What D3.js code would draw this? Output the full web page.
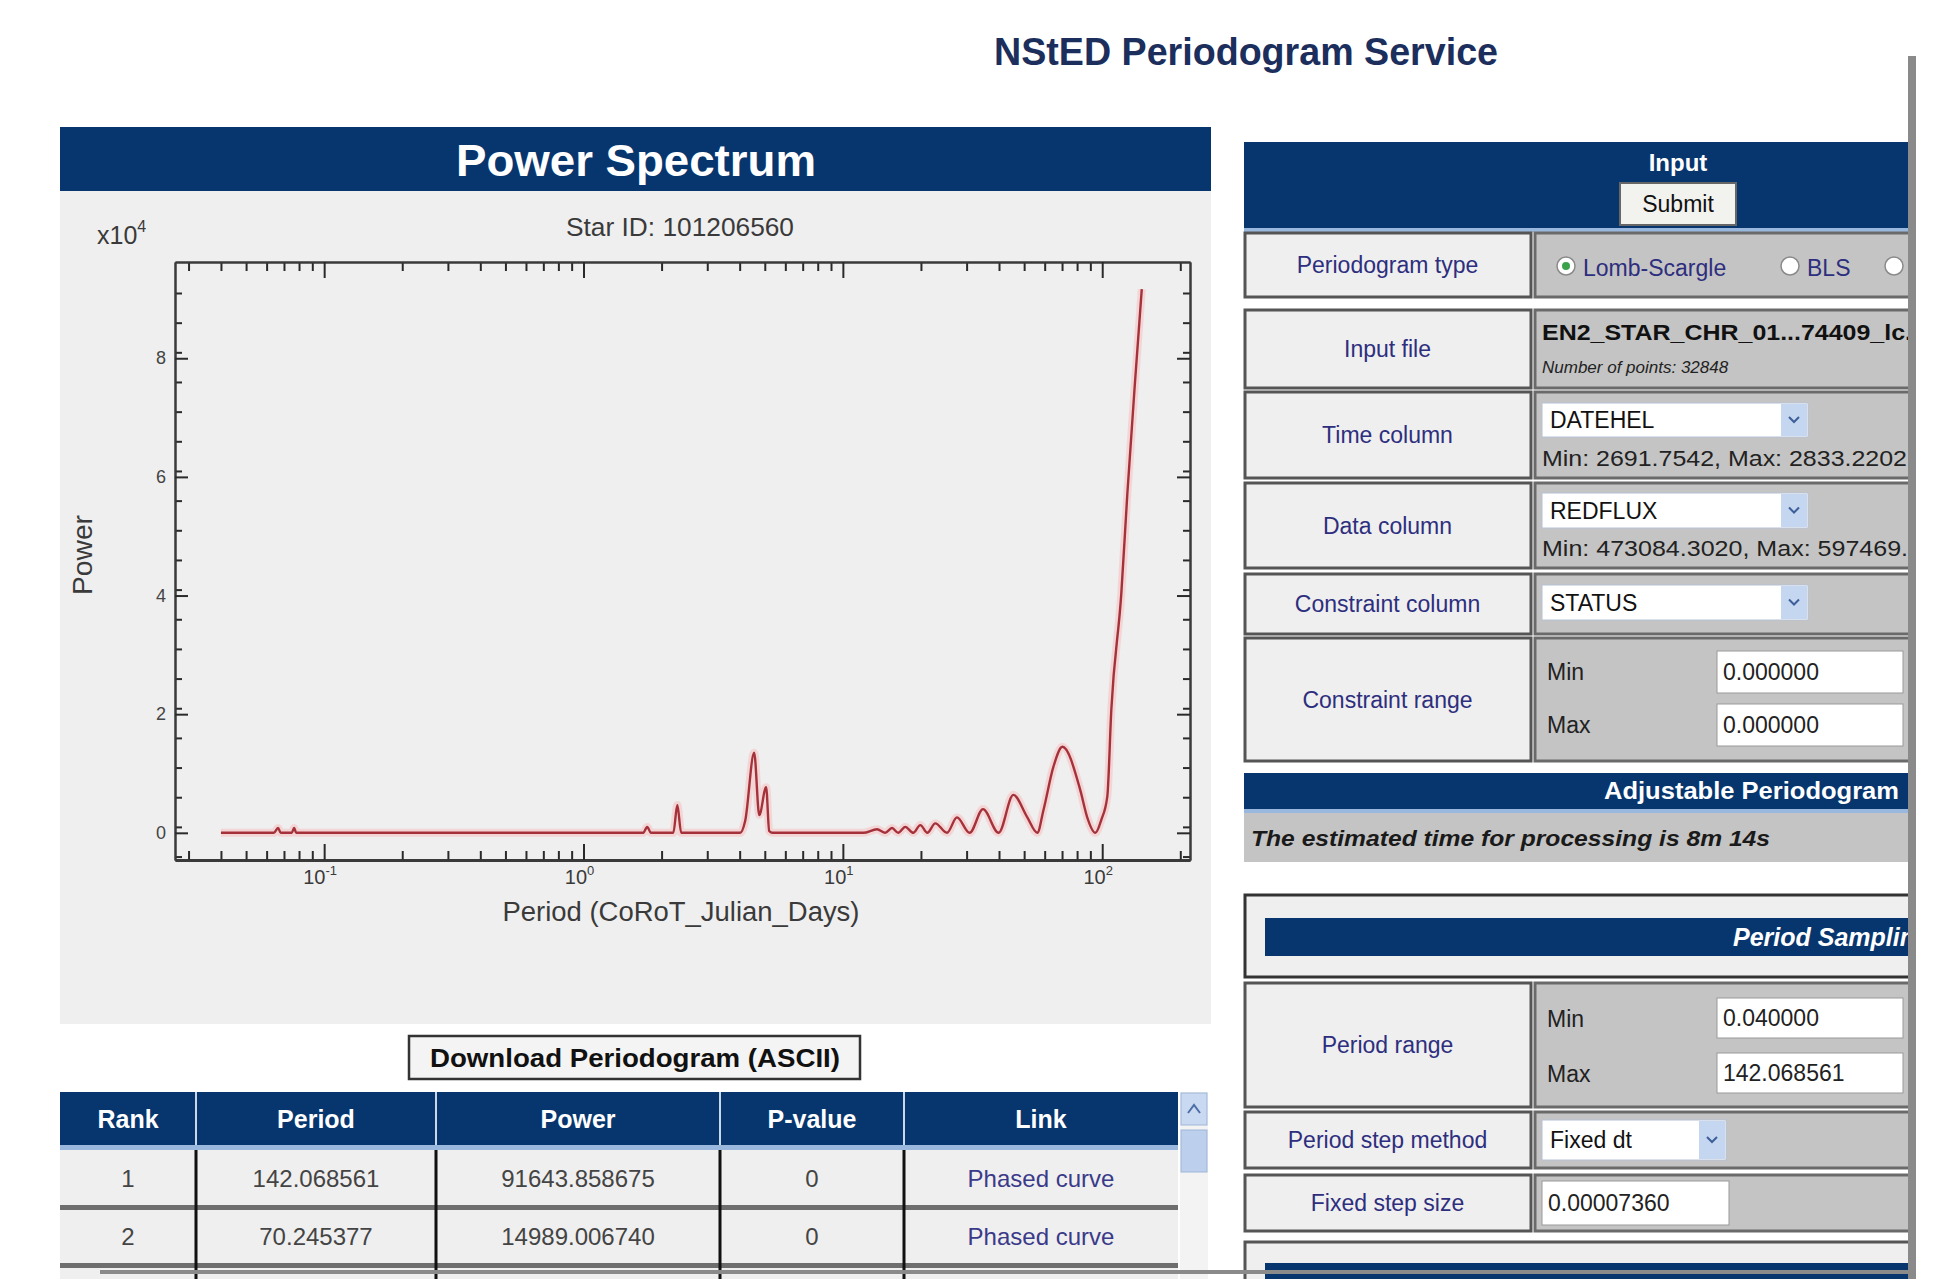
<!DOCTYPE html>
<html>
<head>
<meta charset="utf-8">
<script src="https://cdn.jsdelivr.net/npm/d3@7"></script>
<style>
  body { margin: 0; background: #fff; }
  svg { display: block; font-family: "Liberation Sans", Arial, sans-serif; }
</style>
</head>
<body>
<div id="page"></div>
<script>
// periodogram: period (days) and power
const periods = [0.040, 0.064, 0.0664, 0.068, 0.075, 0.0766, 0.078, 1.70, 1.76, 1.82,
  2.22, 2.30, 2.38, 4.02, 4.20, 4.55, 4.76, 5.06, 5.20, 5.35,
  12.0, 13.54, 14.57, 15.47, 16.35, 17.40, 18.69, 19.89, 21.16, 22.72,
  25.20, 27.54, 30.81, 34.70, 39.86, 45.42, 51.3, 56.20, 59.4, 64.9,
  70.245, 82.3, 87.4, 94.1, 99.2, 104.6, 108.4, 118.5, 125.0, 134.2, 142.07];
const powers = [0, 0, 800, 0, 0, 800, 0, 0, 1000, 0,
  0, 4700, 0, 0, 2000, 13500, 3000, 7700, 300, 0,
  0, 600, 0, 800, 0, 1000, 0, 1300, 0, 1600,
  0, 2600, 0, 4000, 0, 6400, 2700, 0, 3900, 11200,
  14500, 7200, 2700, 0, 2200, 6100, 20700, 40400, 57200, 76800, 91644];

const yTicks = [0, 20000, 40000, 60000, 80000];
const yTickLabels = ["0", "2", "4", "6", "8"];
const xDecades = [0.1, 1, 10, 100];
const xTickExps = ["-1", "0", "1", "2"];

// top peaks table
const tableHead = ["Rank", "Period", "Power", "P-value", "Link"];
const tableRanks = ["1", "2"];
const tablePeriods = ["142.068561", "70.245377"];
const tablePowers = ["91643.858675", "14989.006740"];
const tablePvalues = ["0", "0"];
const tableLinks = ["Phased curve", "Phased curve"];

// input form
const formLabels = ["Periodogram type", "Input file", "Time column", "Data column", "Constraint column", "Constraint range"];
const periodTypes = ["Lomb-Scargle", "BLS", ""];
const inputFileShort = "EN2_STAR_CHR_01...74409_lc.";
const pointsNote = "Number of points: 32848";
const columnChoices = ["DATEHEL", "REDFLUX", "STATUS"];
const columnRanges = ["Min: 2691.7542, Max: 2833.2202", "Min: 473084.3020, Max: 597469.2"];
const constraintRange = ["0.000000", "0.000000"];
const samplingLabels = ["Period range", "Period step method", "Fixed step size"];
const periodRange = ["0.040000", "142.068561"];
const stepMethod = "Fixed dt";
const stepSize = "0.00007360";

const W = 1953, H = 1279;
const navy = "#07366f", lightBlue = "#9ab8dd", cellGray = "#efefef", valGray = "#c4c4c4";
const labelBlue = "#2e2e7e";

const svg = d3.select("#page").append("svg").attr("width", W).attr("height", H);

function txt(parent, x, y, s, o = {}) {
  const t = parent.append("text").attr("x", x).attr("y", y).text(s)
    .attr("font-size", o.size || 24).attr("fill", o.fill || "#222")
    .attr("text-anchor", o.anchor || "start").attr("dominant-baseline", "central");
  if (o.weight) t.attr("font-weight", o.weight);
  if (o.style) t.attr("font-style", o.style);
  if (o.len) t.attr("textLength", o.len).attr("lengthAdjust", "spacingAndGlyphs");
  return t;
}

// page title
txt(svg, 1246, 52, "NStED Periodogram Service", {size: 38, weight: "bold", fill: "#1b2e5c", anchor: "middle", len: 504});

// ---------- left panel: power spectrum ----------
svg.append("rect").attr("x", 60).attr("y", 127).attr("width", 1151).attr("height", 64).attr("fill", navy);
txt(svg, 636, 160, "Power Spectrum", {size: 44, weight: "bold", fill: "#fff", anchor: "middle", len: 360});
svg.append("rect").attr("x", 60).attr("y", 191).attr("width", 1151).attr("height", 833).attr("fill", "#efefef");

const plot = {left: 175, right: 1190, top: 262, bottom: 860};
const x = d3.scaleLog().domain([0.0266, 218]).range([plot.left, plot.right]);
const y = d3.scaleLinear().domain([-4582, 96226]).range([plot.bottom, plot.top]);

const xMinor = [];
[0.01, 0.1, 1, 10, 100].forEach(d => d3.range(2, 10).forEach(k => {
  const v = k * d;
  if (v > x.domain()[0] && v < x.domain()[1]) xMinor.push(v);
}));
const yMinor = d3.range(-4000, 96000, 5000).filter(v => v % 20000 !== 0);

const axes = svg.append("g").attr("class", "axes");
function styleAxis(sel) {
  sel.select(".domain").attr("stroke", "#3a3a3a").attr("stroke-width", 2);
  sel.selectAll(".tick line").attr("stroke", "#2a2a2a").attr("stroke-width", 2);
  sel.selectAll(".tick text").remove();
}
axes.append("g").attr("transform", `translate(0,${plot.bottom})`)
  .call(d3.axisBottom(x).tickValues(xMinor).tickSize(-9).tickSizeOuter(0).tickFormat("")).call(styleAxis);
axes.append("g").attr("transform", `translate(0,${plot.bottom})`)
  .call(d3.axisBottom(x).tickValues(xDecades).tickSize(-16).tickSizeOuter(0).tickFormat("")).call(styleAxis);
axes.append("g").attr("transform", `translate(0,${plot.top})`)
  .call(d3.axisTop(x).tickValues(xMinor).tickSize(-9).tickSizeOuter(0).tickFormat("")).call(styleAxis);
axes.append("g").attr("transform", `translate(0,${plot.top})`)
  .call(d3.axisTop(x).tickValues(xDecades).tickSize(-16).tickSizeOuter(0).tickFormat("")).call(styleAxis);
axes.append("g").attr("transform", `translate(${plot.left},0)`)
  .call(d3.axisLeft(y).tickValues(yMinor).tickSize(-7).tickSizeOuter(0).tickFormat("")).call(styleAxis);
axes.append("g").attr("transform", `translate(${plot.left},0)`)
  .call(d3.axisLeft(y).tickValues(yTicks).tickSize(-13).tickSizeOuter(0).tickFormat("")).call(styleAxis);
axes.append("g").attr("transform", `translate(${plot.right},0)`)
  .call(d3.axisRight(y).tickValues(yMinor).tickSize(-7).tickSizeOuter(0).tickFormat("")).call(styleAxis);
axes.append("g").attr("transform", `translate(${plot.right},0)`)
  .call(d3.axisRight(y).tickValues(yTicks).tickSize(-13).tickSizeOuter(0).tickFormat("")).call(styleAxis);
axes.select("g:last-child .domain").attr("stroke-width", 3);

// tick labels
yTicks.forEach((v, i) => txt(svg, 161, y(v), yTickLabels[i], {size: 18, fill: "#444", anchor: "middle"}));
xDecades.forEach((v, i) => {
  const t = svg.append("text").attr("x", x(v) - 4).attr("y", 884).attr("text-anchor", "middle")
    .attr("font-size", 20).attr("fill", "#3a3a3a");
  t.append("tspan").text("10");
  t.append("tspan").attr("dy", -9).attr("font-size", 13).text(xTickExps[i]);
});

// titles
txt(svg, 680, 227, "Star ID: 101206560", {size: 26, fill: "#3a3a3a", anchor: "middle", len: 228});
const mult = svg.append("text").attr("x", 97).attr("y", 244).attr("font-size", 25).attr("fill", "#3a3a3a");
mult.append("tspan").text("x10");
mult.append("tspan").attr("dy", -12).attr("font-size", 16).text("4");
txt(svg, 681, 912, "Period (CoRoT_Julian_Days)", {size: 27, fill: "#3a3a3a", anchor: "middle", len: 357});
txt(svg, 0, 0, "Power", {size: 27, fill: "#3a3a3a", anchor: "middle", len: 80})
  .attr("transform", "translate(83,555) rotate(-90)");

// spectrum line
svg.append("clipPath").attr("id", "plotclip").append("rect")
  .attr("x", plot.left).attr("y", plot.top).attr("width", plot.right - plot.left).attr("height", plot.bottom - plot.top);
const spec = periods.map((p, i) => [p, powers[i]]);
const line = d3.line().x(d => x(d[0])).y(d => y(d[1])).curve(d3.curveMonotoneX);
const lg = svg.append("g").attr("clip-path", "url(#plotclip)");
lg.append("path").datum(spec).attr("d", line).attr("fill", "none")
  .attr("stroke", "#f7caca").attr("stroke-width", 8).attr("stroke-opacity", 0.7);
lg.append("path").datum(spec).attr("d", line).attr("fill", "none")
  .attr("stroke", "#a5323b").attr("stroke-width", 2.4).attr("stroke-linejoin", "round");

// download button
svg.append("rect").attr("x", 409).attr("y", 1036).attr("width", 451).attr("height", 43)
  .attr("fill", "#f4f4f4").attr("stroke", "#333").attr("stroke-width", 2.5);
txt(svg, 635, 1058, "Download Periodogram (ASCII)", {size: 25, weight: "bold", fill: "#111", anchor: "middle", len: 410});

// peaks table
const colX = [60, 196, 436, 720, 904, 1178];
svg.append("rect").attr("x", 60).attr("y", 1092).attr("width", 1118).attr("height", 53).attr("fill", navy);
svg.append("rect").attr("x", 60).attr("y", 1145).attr("width", 1118).attr("height", 5).attr("fill", lightBlue);
[[1150, 1205], [1210, 1263], [1268, 1279]].forEach(r =>
  svg.append("rect").attr("x", 60).attr("y", r[0]).attr("width", 1118).attr("height", r[1] - r[0]).attr("fill", "#efefef"));
[1205, 1263].forEach(yy =>
  svg.append("rect").attr("x", 60).attr("y", yy).attr("width", 1118).attr("height", 5).attr("fill", "#6e6e6e"));
colX.slice(1, 5).forEach(cx =>
  svg.append("rect").attr("x", cx - 1.5).attr("y", 1150).attr("width", 3).attr("height", 129).attr("fill", "#111"));
colX.slice(1, 5).forEach(cx =>
  svg.append("rect").attr("x", cx - 1).attr("y", 1092).attr("width", 2).attr("height", 53).attr("fill", "#c9d6e8"));
tableHead.forEach((h, i) => txt(svg, (colX[i] + colX[i + 1]) / 2, 1119, h, {size: 25, weight: "bold", fill: "#fff", anchor: "middle"}));
const tableCols = [tableRanks, tablePeriods, tablePowers, tablePvalues, tableLinks];
[1178, 1236].forEach((ry, r) => tableCols.forEach((col, i) =>
  txt(svg, (colX[i] + colX[i + 1]) / 2, ry, col[r], {size: 24, fill: i === 4 ? "#3a3a8a" : "#444", anchor: "middle"})));
// table scrollbar
svg.append("rect").attr("x", 1180).attr("y", 1092).attr("width", 28).attr("height", 187).attr("fill", "#f3f3f3");
svg.append("rect").attr("x", 1181).attr("y", 1093).attr("width", 26).attr("height", 32).attr("fill", "#c9d9f1").attr("stroke", "#9fb5d8");
svg.append("path").attr("d", "M1188,1113 L1194,1105 L1200,1113").attr("fill", "none").attr("stroke", "#4d6fa5").attr("stroke-width", 2);
svg.append("rect").attr("x", 1181).attr("y", 1130).attr("width", 26).attr("height", 42).attr("fill", "#bcd0ee").attr("stroke", "#9fb5d8");

// ---------- right panel: form ----------
svg.append("clipPath").attr("id", "formclip").append("rect").attr("x", 1240).attr("y", 0).attr("width", 668).attr("height", H);
const f = svg.append("g").attr("clip-path", "url(#formclip)");
const LX0 = 1244, LX1 = 1531, VX0 = 1535, VX1 = 1912;

f.append("rect").attr("x", LX0).attr("y", 142).attr("width", VX1 - LX0).attr("height", 86).attr("fill", navy);
f.append("rect").attr("x", LX0).attr("y", 228).attr("width", VX1 - LX0).attr("height", 4).attr("fill", lightBlue);
txt(f, 1678, 162, "Input", {size: 24, weight: "bold", fill: "#fff", anchor: "middle"});
f.append("rect").attr("x", 1620).attr("y", 183).attr("width", 116).attr("height", 42).attr("fill", "#f2f2ee").attr("stroke", "#666").attr("stroke-width", 2);
txt(f, 1678, 204, "Submit", {size: 23, fill: "#111", anchor: "middle"});

function formRow(label, y0, y1) {
  f.append("rect").attr("x", LX0 + 1).attr("y", y0).attr("width", LX1 - LX0 - 1).attr("height", y1 - y0)
    .attr("fill", cellGray).attr("stroke", "#555").attr("stroke-width", 3);
  f.append("rect").attr("x", VX0).attr("y", y0).attr("width", VX1 - VX0).attr("height", y1 - y0)
    .attr("fill", valGray).attr("stroke", "#6a6a6a").attr("stroke-width", 3);
  txt(f, (LX0 + LX1) / 2, (y0 + y1) / 2, label, {size: 23, fill: labelBlue, anchor: "middle"});
}
function selectBox(x0, y0, w, h, s) {
  f.append("rect").attr("x", x0).attr("y", y0).attr("width", w).attr("height", h).attr("fill", "#fff").attr("stroke", "#b6c2d6");
  f.append("rect").attr("x", x0 + w - 27).attr("y", y0 + 1).attr("width", 26).attr("height", h - 2).attr("fill", "#c5d6f0");
  f.append("path").attr("d", `M${x0 + w - 19},${y0 + h / 2 - 3} L${x0 + w - 14},${y0 + h / 2 + 2} L${x0 + w - 9},${y0 + h / 2 - 3}`)
    .attr("fill", "none").attr("stroke", "#3d5f99").attr("stroke-width", 2);
  txt(f, x0 + 8, y0 + h / 2, s, {size: 23, fill: "#111"});
}
function inputBox(x0, y0, w, h, s) {
  f.append("rect").attr("x", x0).attr("y", y0).attr("width", w).attr("height", h).attr("fill", "#fff").attr("stroke", "#999");
  txt(f, x0 + 6, y0 + h / 2, s, {size: 23, fill: "#222"});
}

const rowsTop = [[233, 297], [310, 388], [392, 478], [483, 568], [574, 634], [638, 761]];
formLabels.forEach((l, i) => formRow(l, rowsTop[i][0], rowsTop[i][1]));

// periodogram type radios
[1566, 1790, 1894].forEach((cx, i) => {
  f.append("circle").attr("cx", cx).attr("cy", 266).attr("r", 9).attr("fill", "#fff").attr("stroke", "#8a8a8a").attr("stroke-width", 1.5);
  if (i === 0) f.append("circle").attr("cx", cx).attr("cy", 266).attr("r", 4).attr("fill", "#3aa24a");
  if (periodTypes[i]) txt(f, cx + 17, 268, periodTypes[i], {size: 23, fill: labelBlue});
});
// input file
txt(f, 1542, 332, inputFileShort, {size: 22, weight: "bold", fill: "#111", len: 370});
txt(f, 1542, 367, pointsNote, {size: 17, style: "italic", fill: "#222"});
// column selects
selectBox(1542, 403, 266, 34, columnChoices[0]);
txt(f, 1542, 458, columnRanges[0], {size: 22, fill: "#222", len: 365});
selectBox(1542, 493, 266, 35, columnChoices[1]);
txt(f, 1542, 548, columnRanges[1], {size: 22, fill: "#222", len: 380});
selectBox(1542, 585, 266, 35, columnChoices[2]);
// constraint range
txt(f, 1547, 672, "Min", {size: 23, fill: "#222"});
inputBox(1717, 651, 186, 42, constraintRange[0]);
txt(f, 1547, 725, "Max", {size: 23, fill: "#222"});
inputBox(1717, 704, 186, 42, constraintRange[1]);

// adjustable periodogram
f.append("rect").attr("x", LX0).attr("y", 773).attr("width", VX1 - LX0).attr("height", 36).attr("fill", navy);
f.append("rect").attr("x", LX0).attr("y", 809).attr("width", VX1 - LX0).attr("height", 4).attr("fill", lightBlue);
txt(f, 1899, 791, "Adjustable Periodogram", {size: 23, weight: "bold", fill: "#fff", anchor: "end", len: 295});
f.append("rect").attr("x", LX0).attr("y", 813).attr("width", VX1 - LX0).attr("height", 49).attr("fill", valGray);
txt(f, 1251, 838, "The estimated time for processing is 8m 14s", {size: 22, weight: "bold", style: "italic", fill: "#1a1a1a", len: 519});

// period sampling
f.append("rect").attr("x", LX0 + 1).attr("y", 895).attr("width", VX1 - LX0).attr("height", 82)
  .attr("fill", cellGray).attr("stroke", "#333").attr("stroke-width", 3);
f.append("rect").attr("x", 1265).attr("y", 918).attr("width", VX1 - 1265).attr("height", 38).attr("fill", navy);
txt(f, 1733, 937, "Period Sampling", {size: 25, weight: "bold", style: "italic", fill: "#fff"});

const rowsSamp = [[983, 1107], [1112, 1168], [1175, 1231]];
samplingLabels.forEach((l, i) => formRow(l, rowsSamp[i][0], rowsSamp[i][1]));
txt(f, 1547, 1019, "Min", {size: 23, fill: "#222"});
inputBox(1717, 998, 186, 40, periodRange[0]);
txt(f, 1547, 1074, "Max", {size: 23, fill: "#222"});
inputBox(1717, 1053, 186, 40, periodRange[1]);
selectBox(1542, 1120, 184, 40, stepMethod);
inputBox(1542, 1181, 187, 44, stepSize);

// next block (cut off)
f.append("rect").attr("x", LX0 + 1).attr("y", 1242).attr("width", VX1 - LX0).attr("height", 45)
  .attr("fill", cellGray).attr("stroke", "#555").attr("stroke-width", 3);
f.append("rect").attr("x", 1265).attr("y", 1263).attr("width", VX1 - 1265).attr("height", 20).attr("fill", navy);

// window edge lines
svg.append("rect").attr("x", 1908).attr("y", 56).attr("width", 8).attr("height", H - 56).attr("fill", "#8a8a8a");
svg.append("rect").attr("x", 100).attr("y", 1270).attr("width", 1812).attr("height", 4).attr("fill", "#8a8a8a");
</script>
</body>
</html>
